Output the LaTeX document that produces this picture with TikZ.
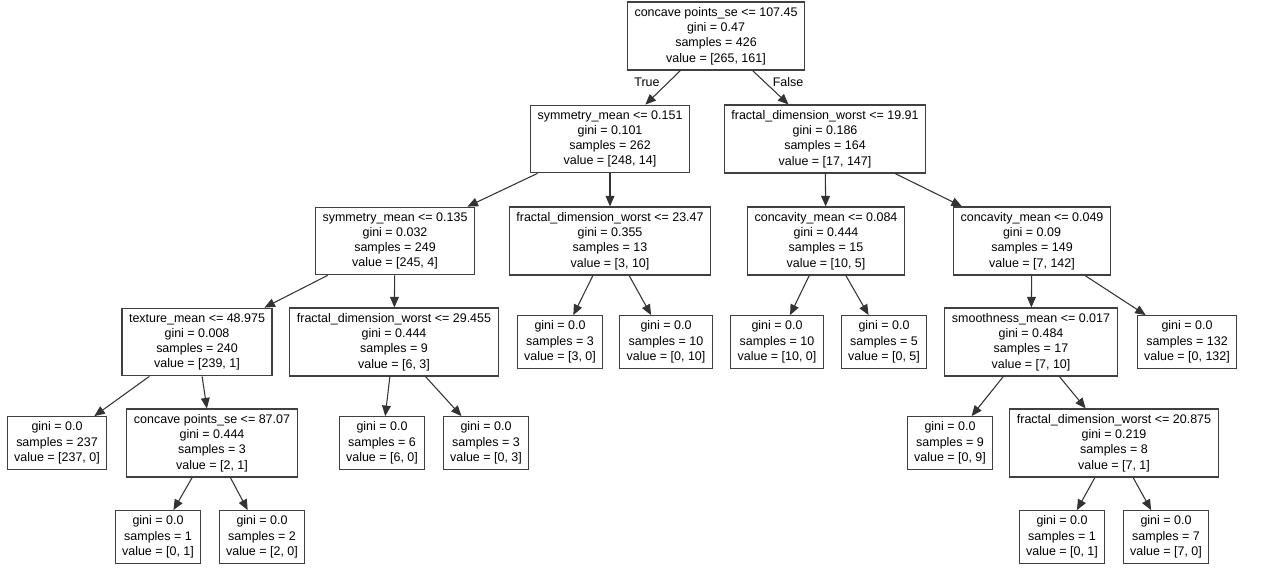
\documentclass[tikz,border=0pt]{standalone}
\usepackage{fontspec}
\setmainfont{Liberation Sans}
\usetikzlibrary{arrows.meta}
\begin{document}
\begin{tikzpicture}[x=0.02cm, y=-0.02cm,
  box/.style={draw=black!75, line width=0.6pt, align=center, inner xsep=4pt, inner ysep=3pt, font=\fontsize{7.1}{8.7}\selectfont},
  edge/.style={draw=black!80, line width=0.6pt, -{Triangle[length=6pt,width=5pt]}},
  lbl/.style={font=\fontsize{7.1}{8.7}\selectfont}]
\useasboundingbox (0,0) rectangle (1280,570);
\node[box] (root) at (716,36) {concave points\_se <= 107.45\\gini = 0.47\\samples = 426\\value = [265, 161]};
\node[box] (symA) at (610,139) {symmetry\_mean <= 0.151\\gini = 0.101\\samples = 262\\value = [248, 14]};
\node[box] (fracA) at (825,139) {fractal\_dimension\_worst <= 19.91\\gini = 0.186\\samples = 164\\value = [17, 147]};
\node[box] (symB) at (395,241) {symmetry\_mean <= 0.135\\gini = 0.032\\samples = 249\\value = [245, 4]};
\node[box] (fracB) at (610,241) {fractal\_dimension\_worst <= 23.47\\gini = 0.355\\samples = 13\\value = [3, 10]};
\node[box] (concA) at (826,241) {concavity\_mean <= 0.084\\gini = 0.444\\samples = 15\\value = [10, 5]};
\node[box] (concB) at (1032,241) {concavity\_mean <= 0.049\\gini = 0.09\\samples = 149\\value = [7, 142]};
\node[box] (tex) at (197,342) {texture\_mean <= 48.975\\gini = 0.008\\samples = 240\\value = [239, 1]};
\node[box] (fracC) at (394,342) {fractal\_dimension\_worst <= 29.455\\gini = 0.444\\samples = 9\\value = [6, 3]};
\node[box] (leafA) at (560,342) {gini = 0.0\\samples = 3\\value = [3, 0]};
\node[box] (leafB) at (666,342) {gini = 0.0\\samples = 10\\value = [0, 10]};
\node[box] (leafC) at (777,342) {gini = 0.0\\samples = 10\\value = [10, 0]};
\node[box] (leafD) at (884,342) {gini = 0.0\\samples = 5\\value = [0, 5]};
\node[box] (smooth) at (1031,342) {smoothness\_mean <= 0.017\\gini = 0.484\\samples = 17\\value = [7, 10]};
\node[box] (leafE) at (1187,342) {gini = 0.0\\samples = 132\\value = [0, 132]};
\node[box] (leafF) at (57,443) {gini = 0.0\\samples = 237\\value = [237, 0]};
\node[box] (concC) at (212,443) {concave points\_se <= 87.07\\gini = 0.444\\samples = 3\\value = [2, 1]};
\node[box] (leafG) at (382,443) {gini = 0.0\\samples = 6\\value = [6, 0]};
\node[box] (leafH) at (486,443) {gini = 0.0\\samples = 3\\value = [0, 3]};
\node[box] (leafI) at (950,443) {gini = 0.0\\samples = 9\\value = [0, 9]};
\node[box] (fracD) at (1114,443) {fractal\_dimension\_worst <= 20.875\\gini = 0.219\\samples = 8\\value = [7, 1]};
\node[box] (leafJ) at (158,537) {gini = 0.0\\samples = 1\\value = [0, 1]};
\node[box] (leafK) at (262,537) {gini = 0.0\\samples = 2\\value = [2, 0]};
\node[box] (leafL) at (1062,537) {gini = 0.0\\samples = 1\\value = [0, 1]};
\node[box] (leafM) at (1166,537) {gini = 0.0\\samples = 7\\value = [7, 0]};
\node[lbl] (ltrue) at (647,82) {True};
\node[lbl] (lfalse) at (788,82) {False};
\draw[edge] (root) -- (symA);
\draw[edge] (root) -- (fracA);
\draw[edge] (symA) -- (symB);
\draw[edge] (symA) -- (fracB);
\draw[edge] (fracA) -- (concA);
\draw[edge] (fracA) -- (concB);
\draw[edge] (symB) -- (tex);
\draw[edge] (symB) -- (fracC);
\draw[edge] (fracB) -- (leafA);
\draw[edge] (fracB) -- (leafB);
\draw[edge] (concA) -- (leafC);
\draw[edge] (concA) -- (leafD);
\draw[edge] (concB) -- (smooth);
\draw[edge] (concB) -- (leafE);
\draw[edge] (tex) -- (leafF);
\draw[edge] (tex) -- (concC);
\draw[edge] (fracC) -- (leafG);
\draw[edge] (fracC) -- (leafH);
\draw[edge] (smooth) -- (leafI);
\draw[edge] (smooth) -- (fracD);
\draw[edge] (concC) -- (leafJ);
\draw[edge] (concC) -- (leafK);
\draw[edge] (fracD) -- (leafL);
\draw[edge] (fracD) -- (leafM);
\end{tikzpicture}
\end{document}
